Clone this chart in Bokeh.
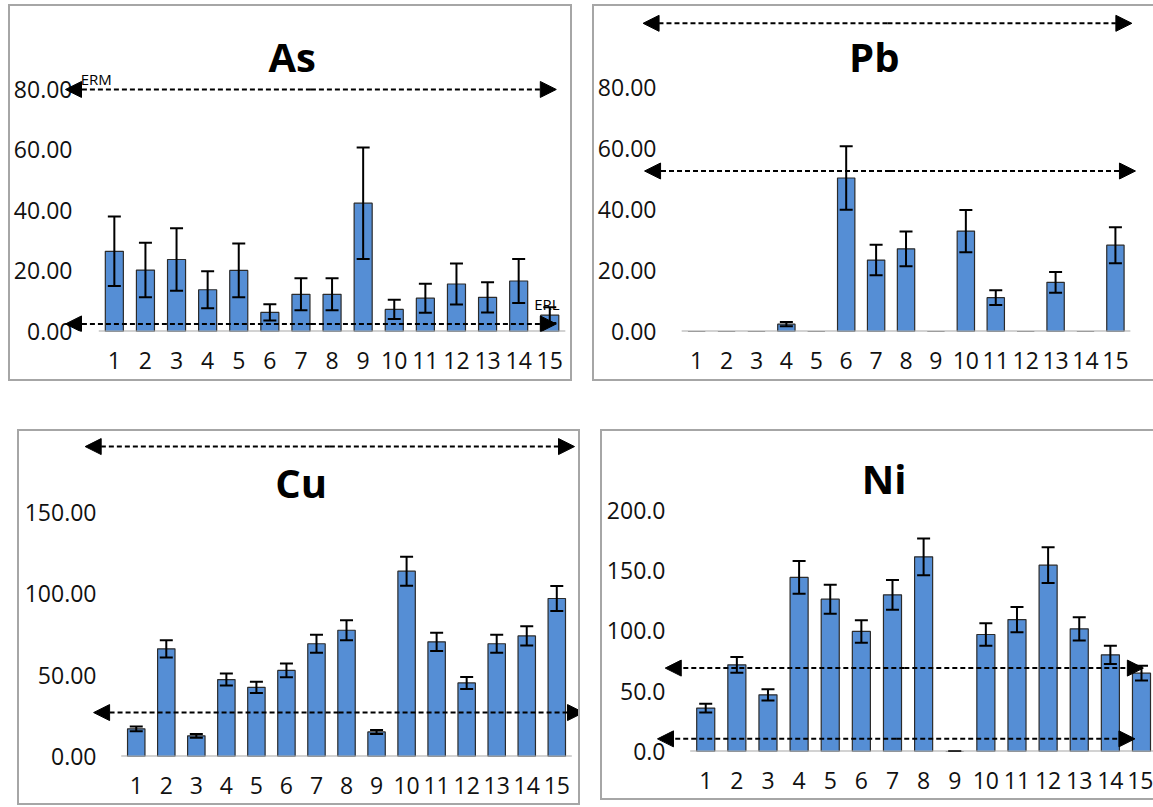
from bokeh.plotting import figure
from bokeh.models import (ColumnDataSource, Whisker, TeeHead, Arrow, NormalHead,
                          Label, FixedTicker, NumeralTickFormatter, Range1d)
from bokeh.layouts import row, column
from bokeh.embed import file_html
from bokeh.resources import INLINE

# ---------------- data ----------------
stations = list(range(1, 16))
station_labels = [str(s) for s in stations]

as_mean = [26.5, 20.3, 23.8, 13.8, 20.2, 6.3, 12.3, 12.3, 42.4, 7.3, 11.0, 15.7, 11.3, 16.7, 5.4]
as_err = [11.5, 9.0, 10.3, 6.1, 8.9, 2.7, 5.3, 5.3, 18.4, 3.2, 4.8, 6.8, 5.0, 7.3, 2.6]
as_lines = [2.5, 80.0]          # ERL, ERM
as_ticks = [0, 20, 40, 60, 80]

pb_mean = [0, 0, 0, 2.4, 0, 50.3, 23.4, 27.1, 0, 32.9, 11.1, 0, 16.1, 0, 28.3]
pb_err = [None, None, None, 0.7, None, 10.4, 5.0, 5.7, None, 6.9, 2.4, None, 3.4, None, 5.9]
pb_lines = [52.6, 101.0]
pb_ticks = [0, 20, 40, 60, 80]

cu_mean = [17.0, 66.2, 12.7, 47.3, 42.5, 52.9, 69.3, 77.6, 15.1, 113.9, 70.5, 45.2, 69.3, 74.1, 97.1]
cu_err = [1.5, 5.3, 1.1, 3.7, 3.4, 4.2, 5.5, 6.2, 1.25, 8.9, 5.6, 3.7, 5.5, 5.9, 7.7]
cu_lines = [27.0, 190.5]
cu_ticks = [0, 50, 100, 150]

ni_mean = [36.0, 71.9, 47.0, 144.4, 126.4, 99.6, 130.0, 161.5, 0.0, 97.1, 109.5, 154.6, 101.8, 80.2, 65.0]
ni_err = [3.6, 6.6, 4.6, 13.6, 12.0, 9.4, 12.3, 15.3, 0.0, 9.4, 10.5, 14.8, 9.6, 7.6, 6.1]
ni_lines = [10.5, 69.2]
ni_ticks = [0, 50, 100, 150, 200]

FONT = "Open Sans"
BAR = "#558ED5"
BORDER = "2px solid #A6A6A6"


def make_panel(title, mean, err, lines, ticks, fmt, *, w, h, bl, br, bt, bb,
               x_start, x_end, y_end, arrows_x, title_xy, margin, sides, standoff):
    styles = {f"border-{s}": BORDER for s in sides}
    styles["box-sizing"] = "content-box"
    p = figure(width=w, height=h, output_backend="svg", toolbar_location=None,
               x_range=Range1d(x_start, x_end), y_range=Range1d(0, y_end),
               min_border_left=bl, min_border_right=br, min_border_top=bt,
               min_border_bottom=bb, outline_line_color=None,
               background_fill_color="white", border_fill_color="white",
               margin=margin, styles=styles)
    p.xgrid.visible = False
    p.ygrid.visible = False

    src = ColumnDataSource(dict(x=stations, top=mean))
    p.vbar(x="x", top="top", width=0.58, source=src, fill_color=BAR,
           line_color="#2b2b2b", line_width=1.2)

    # category axis baseline (spans the category slots only)
    p.segment(x0=[stations[0] - 0.5], y0=[0], x1=[stations[-1] + 0.5], y1=[0],
              line_color="#A6A6A6", line_width=2)

    idx = [i for i, e in enumerate(err) if e is not None]
    wsrc = ColumnDataSource(dict(
        base=[stations[i] for i in idx],
        upper=[mean[i] + err[i] for i in idx],
        lower=[mean[i] - err[i] for i in idx]))
    wk = Whisker(base="base", upper="upper", lower="lower", source=wsrc,
                 line_color="black", line_width=2, level="overlay",
                 upper_head=TeeHead(size=13, line_width=2, line_color="black"),
                 lower_head=TeeHead(size=13, line_width=2, line_color="black"))
    p.add_layout(wk)

    for yv, (xa, xb) in zip(lines, arrows_x):
        xm = (xa + xb) / 2
        for xe in (xa, xb):
            p.add_layout(Arrow(
                x_start=xm, y_start=yv, x_end=xe, y_end=yv,
                line_color="black", line_width=2, line_dash="5 3",
                start=None,
                end=NormalHead(size=16, fill_color="black", line_color="black",
                               line_width=1)))

    p.add_layout(Label(x=title_xy[0], y=title_xy[1], text=title,
                       text_font=FONT, text_font_size="40px",
                       text_font_style="bold", text_align="center",
                       text_baseline="middle", text_color="black"))

    xa = p.xaxis[0]
    xa.ticker = FixedTicker(ticks=stations)
    xa.major_label_overrides = {s: l for s, l in zip(stations, station_labels)}
    xa.major_tick_line_color = None
    xa.minor_tick_line_color = None
    xa.axis_line_color = None
    xa.major_tick_out = 0
    xa.major_label_text_font = FONT
    xa.major_label_text_font_size = "23px"
    xa.major_label_text_color = "#111111"
    xa.major_label_standoff = 20

    ya = p.yaxis[0]
    ya.ticker = FixedTicker(ticks=ticks)
    ya.formatter = NumeralTickFormatter(format=fmt)
    ya.major_tick_line_color = None
    ya.minor_tick_line_color = None
    ya.axis_line_color = None
    ya.major_tick_out = 0
    ya.major_label_text_font = FONT
    ya.major_label_text_font_size = "23px"
    ya.major_label_text_color = "#111111"
    ya.major_label_standoff = standoff
    return p


p_as = make_panel("As", as_mean, as_err, as_lines, as_ticks, "0.00",
                  w=560, h=373, bl=50, br=0, bt=4, bb=52,
                  x_start=-0.731, x_end=15.795, y_end=106.1,
                  arrows_x=[(-0.57, 15.21), (-0.57, 15.21)],
                  title_xy=(6.72, 91.0), margin=(4, 0, 0, 8),
                  sides=["top", "left", "bottom", "right"], standoff=-12)
p_as.add_layout(Label(x=-0.08, y=83.5, text="ERM", text_font=FONT,
                      text_font_size="15px", text_baseline="middle",
                      text_color="black"))
p_as.add_layout(Label(x=14.5, y=9.0, text="ERL", text_font=FONT,
                      text_font_size="15px", text_baseline="middle",
                      text_color="black"))

p_pb = make_panel("Pb", pb_mean, pb_err, pb_lines, pb_ticks, "0.00",
                  w=559, h=373, bl=42, br=0, bt=4, bb=52,
                  x_start=-1.01, x_end=16.34, y_end=105.2,
                  arrows_x=[(-0.74, 15.67), (-0.79, 15.55)],
                  title_xy=(6.94, 90.0), margin=(4, 0, 0, 20),
                  sides=["top", "left", "bottom"], standoff=-20)

p_cu = make_panel("Cu", cu_mean, cu_err, cu_lines, cu_ticks, "0.00",
                  w=559, h=372, bl=61, br=0, bt=4, bb=51,
                  x_start=-0.856, x_end=15.856, y_end=197.3,
                  arrows_x=[(-0.42, 15.89), (-0.70, 15.59)],
                  title_xy=(6.49, 168.6), margin=(48, 0, -8, 17),
                  sides=["top", "left", "bottom", "right"], standoff=-16)

p_ni = make_panel("Ni", ni_mean, ni_err, ni_lines, ni_ticks, "0.0",
                  w=551, h=367, bl=50, br=0, bt=4, bb=47,
                  x_start=-0.71, x_end=15.45, y_end=262.2,
                  arrows_x=[(-0.55, 14.79), (-0.30, 15.06)],
                  title_xy=(6.73, 226.6), margin=(48, 0, 0, 20),
                  sides=["top", "left", "bottom"], standoff=-13)

layout = column(row(p_as, p_pb), row(p_cu, p_ni))

open("out.html", "w").write(file_html(layout, INLINE))
